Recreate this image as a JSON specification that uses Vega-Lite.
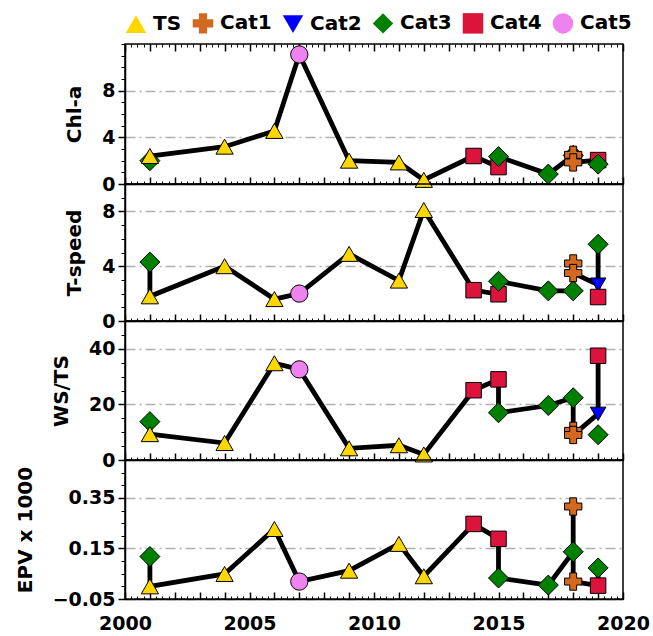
{
  "$schema": "https://vega.github.io/schema/vega-lite/v6.json",
  "padding": {"left": 14, "top": 12, "right": 10, "bottom": 5},
  "spacing": 0,
  "bounds": "flush",
  "datasets": {
    "d": [
      {"panel": "chl", "year": 2014, "cat": "Cat4", "value": 2.4, "seq": 9},
      {"panel": "chl", "year": 2015, "cat": "Cat4", "value": 1.45, "seq": 10},
      {"panel": "chl", "year": 2019, "cat": "Cat4", "value": 2.05, "seq": 16},
      {"panel": "chl", "year": 2001, "cat": "Cat3", "value": 2.0, "seq": 1},
      {"panel": "chl", "year": 2015, "cat": "Cat3", "value": 2.35, "seq": 11},
      {"panel": "chl", "year": 2017, "cat": "Cat3", "value": 0.85, "seq": 12},
      {"panel": "chl", "year": 2018, "cat": "Cat3", "value": 2.45, "seq": 13},
      {"panel": "chl", "year": 2019, "cat": "Cat3", "value": 1.7, "seq": 17},
      {"panel": "chl", "year": 2001, "cat": "TS", "value": 2.4, "seq": 2},
      {"panel": "chl", "year": 2004, "cat": "TS", "value": 3.2, "seq": 3},
      {"panel": "chl", "year": 2006, "cat": "TS", "value": 4.55, "seq": 4},
      {"panel": "chl", "year": 2009, "cat": "TS", "value": 2.0, "seq": 6},
      {"panel": "chl", "year": 2011, "cat": "TS", "value": 1.85, "seq": 7},
      {"panel": "chl", "year": 2012, "cat": "TS", "value": 0.35, "seq": 8},
      {"panel": "chl", "year": 2007, "cat": "Cat5", "value": 11.1, "seq": 5},
      {"panel": "chl", "year": 2018, "cat": "Cat1", "value": 2.5, "seq": 14},
      {"panel": "chl", "year": 2018, "cat": "Cat1", "value": 1.85, "seq": 15},

      {"panel": "ts", "year": 2019, "cat": "Cat2", "value": 2.65, "seq": 16},
      {"panel": "ts", "year": 2014, "cat": "Cat4", "value": 2.25, "seq": 9},
      {"panel": "ts", "year": 2015, "cat": "Cat4", "value": 1.95, "seq": 10},
      {"panel": "ts", "year": 2019, "cat": "Cat4", "value": 1.75, "seq": 18},
      {"panel": "ts", "year": 2001, "cat": "Cat3", "value": 4.3, "seq": 1},
      {"panel": "ts", "year": 2015, "cat": "Cat3", "value": 2.9, "seq": 11},
      {"panel": "ts", "year": 2017, "cat": "Cat3", "value": 2.2, "seq": 12},
      {"panel": "ts", "year": 2018, "cat": "Cat3", "value": 2.2, "seq": 13},
      {"panel": "ts", "year": 2019, "cat": "Cat3", "value": 5.6, "seq": 17},
      {"panel": "ts", "year": 2001, "cat": "TS", "value": 1.8, "seq": 2},
      {"panel": "ts", "year": 2004, "cat": "TS", "value": 4.0, "seq": 3},
      {"panel": "ts", "year": 2006, "cat": "TS", "value": 1.6, "seq": 4},
      {"panel": "ts", "year": 2009, "cat": "TS", "value": 4.9, "seq": 6},
      {"panel": "ts", "year": 2011, "cat": "TS", "value": 2.95, "seq": 7},
      {"panel": "ts", "year": 2012, "cat": "TS", "value": 8.1, "seq": 8},
      {"panel": "ts", "year": 2007, "cat": "Cat5", "value": 2.0, "seq": 5},
      {"panel": "ts", "year": 2018, "cat": "Cat1", "value": 4.2, "seq": 14},
      {"panel": "ts", "year": 2018, "cat": "Cat1", "value": 3.5, "seq": 15},

      {"panel": "ws", "year": 2019, "cat": "Cat2", "value": 16.6, "seq": 16},
      {"panel": "ws", "year": 2014, "cat": "Cat4", "value": 25.1, "seq": 9},
      {"panel": "ws", "year": 2015, "cat": "Cat4", "value": 29.0, "seq": 10},
      {"panel": "ws", "year": 2019, "cat": "Cat4", "value": 37.5, "seq": 17},
      {"panel": "ws", "year": 2001, "cat": "Cat3", "value": 13.8, "seq": 1},
      {"panel": "ws", "year": 2015, "cat": "Cat3", "value": 17.0, "seq": 11},
      {"panel": "ws", "year": 2017, "cat": "Cat3", "value": 19.6, "seq": 12},
      {"panel": "ws", "year": 2018, "cat": "Cat3", "value": 22.4, "seq": 13},
      {"panel": "ws", "year": 2019, "cat": "Cat3", "value": 9.1, "seq": null},
      {"panel": "ws", "year": 2001, "cat": "TS", "value": 9.3, "seq": 2},
      {"panel": "ws", "year": 2004, "cat": "TS", "value": 6.1, "seq": 3},
      {"panel": "ws", "year": 2006, "cat": "TS", "value": 34.8, "seq": 4},
      {"panel": "ws", "year": 2009, "cat": "TS", "value": 4.2, "seq": 6},
      {"panel": "ws", "year": 2011, "cat": "TS", "value": 5.3, "seq": 7},
      {"panel": "ws", "year": 2012, "cat": "TS", "value": 2.0, "seq": 8},
      {"panel": "ws", "year": 2007, "cat": "Cat5", "value": 32.6, "seq": 5},
      {"panel": "ws", "year": 2018, "cat": "Cat1", "value": 10.5, "seq": 14},
      {"panel": "ws", "year": 2018, "cat": "Cat1", "value": 9.0, "seq": 15},

      {"panel": "epv", "year": 2014, "cat": "Cat4", "value": 0.247, "seq": 9},
      {"panel": "epv", "year": 2015, "cat": "Cat4", "value": 0.188, "seq": 10},
      {"panel": "epv", "year": 2019, "cat": "Cat4", "value": 0.003, "seq": 16},
      {"panel": "epv", "year": 2001, "cat": "Cat3", "value": 0.118, "seq": 1},
      {"panel": "epv", "year": 2015, "cat": "Cat3", "value": 0.033, "seq": 11},
      {"panel": "epv", "year": 2017, "cat": "Cat3", "value": 0.005, "seq": 12},
      {"panel": "epv", "year": 2018, "cat": "Cat3", "value": 0.137, "seq": 13},
      {"panel": "epv", "year": 2019, "cat": "Cat3", "value": 0.073, "seq": 17},
      {"panel": "epv", "year": 2001, "cat": "TS", "value": 0.0, "seq": 2},
      {"panel": "epv", "year": 2004, "cat": "TS", "value": 0.049, "seq": 3},
      {"panel": "epv", "year": 2006, "cat": "TS", "value": 0.227, "seq": 4},
      {"panel": "epv", "year": 2009, "cat": "TS", "value": 0.062, "seq": 6},
      {"panel": "epv", "year": 2011, "cat": "TS", "value": 0.168, "seq": 7},
      {"panel": "epv", "year": 2012, "cat": "TS", "value": 0.04, "seq": 8},
      {"panel": "epv", "year": 2007, "cat": "Cat5", "value": 0.019, "seq": 5},
      {"panel": "epv", "year": 2018, "cat": "Cat1", "value": 0.316, "seq": 14},
      {"panel": "epv", "year": 2018, "cat": "Cat1", "value": 0.019, "seq": 15}
    ]
  },
  "data": {"name": "d"},
  "resolve": {
    "scale": {"x": "shared", "y": "independent", "color": "shared", "shape": "shared"},
    "axis": {"x": "independent", "y": "independent"},
    "legend": {"color": "shared", "shape": "shared"}
  },
  "vconcat": [
    {
      "width": 498, "height": 140,
      "transform": [{"filter": "datum.panel === 'chl'"}],
      "resolve": {"axis": {"x": "independent", "y": "independent"}},
      "layer": [
        {
          "transform": [{"filter": "isValid(datum.seq)"}],
          "mark": {"type": "line", "color": "black", "strokeWidth": 4.8},
          "encoding": {
            "x": {"field": "year", "type": "quantitative", "scale": {"domain": [2000, 2020], "nice": false, "zero": false},
                  "axis": {"orient": "bottom", "title": null, "labels": false, "grid": false, "tickSize": -7, "values": [2000,2001,2002,2003,2004,2005,2006,2007,2008,2009,2010,2011,2012,2013,2014,2015,2016,2017,2018,2019,2020]}},
            "y": {"field": "value", "type": "quantitative", "scale": {"domain": [0, 12], "nice": false},
                  "axis": {"orient": "left", "title": "Chl-a", "values": [0, 4, 8], "tickSize": 7, "grid": true}},
            "order": {"field": "seq", "type": "quantitative"}
          }
        },
        {
          "transform": [{"filter": "datum.cat === 'Cat2' || datum.cat === 'Cat4'"}],
          "mark": {"type": "point", "filled": true, "opacity": 1, "stroke": "black", "strokeWidth": 1, "size": 240},
          "encoding": {
            "x": {"field": "year", "type": "quantitative",
                  "axis": {"orient": "bottom", "title": null, "labels": false, "grid": false, "domain": false, "tickSize": -3, "tickWidth": 1, "values": [2000,2000.25,2000.5,2000.75,2001,2001.25,2001.5,2001.75,2002,2002.25,2002.5,2002.75,2003,2003.25,2003.5,2003.75,2004,2004.25,2004.5,2004.75,2005,2005.25,2005.5,2005.75,2006,2006.25,2006.5,2006.75,2007,2007.25,2007.5,2007.75,2008,2008.25,2008.5,2008.75,2009,2009.25,2009.5,2009.75,2010,2010.25,2010.5,2010.75,2011,2011.25,2011.5,2011.75,2012,2012.25,2012.5,2012.75,2013,2013.25,2013.5,2013.75,2014,2014.25,2014.5,2014.75,2015,2015.25,2015.5,2015.75,2016,2016.25,2016.5,2016.75,2017,2017.25,2017.5,2017.75,2018,2018.25,2018.5,2018.75,2019,2019.25,2019.5,2019.75,2020]}},
            "y": {"field": "value", "type": "quantitative",
                  "axis": {"orient": "left", "title": null, "labels": false, "grid": false, "domain": false, "tickSize": 4, "tickWidth": 1, "values": [0,1,2,3,4,5,6,7,8,9,10,11,12]}},
            "shape": {"field": "cat", "type": "nominal", "scale": {"domain": ["TS","Cat1","Cat2","Cat3","Cat4","Cat5"], "range": ["triangle-up","cross","triangle-down","diamond","square","circle"]}},
            "color": {"field": "cat", "type": "nominal", "scale": {"domain": ["TS","Cat1","Cat2","Cat3","Cat4","Cat5"], "range": ["#FFD700","#D2691E","#0000FF","#008000","#DC143C","#EE82EE"]}}
          }
        },
        {
          "transform": [{"filter": "datum.cat === 'Cat3'"}],
          "mark": {"type": "point", "filled": true, "opacity": 1, "stroke": "black", "strokeWidth": 1, "size": 400},
          "encoding": {
            "x": {"field": "year", "type": "quantitative",
                  "axis": {"orient": "top", "title": null, "labels": false, "grid": false, "domain": false, "tickSize": -7, "values": [2000,2001,2002,2003,2004,2005,2006,2007,2008,2009,2010,2011,2012,2013,2014,2015,2016,2017,2018,2019,2020]}},
            "y": {"field": "value", "type": "quantitative", "axis": null},
            "shape": {"field": "cat", "type": "nominal"},
            "color": {"field": "cat", "type": "nominal"}
          }
        },
        {
          "transform": [{"filter": "datum.cat === 'TS' || datum.cat === 'Cat5' || datum.cat === 'Cat1'"}],
          "mark": {"type": "point", "filled": true, "opacity": 1, "stroke": "black", "strokeWidth": 1, "size": 300},
          "encoding": {
            "x": {"field": "year", "type": "quantitative",
                  "axis": {"orient": "top", "title": null, "labels": false, "grid": false, "domain": false, "tickSize": -3, "tickWidth": 1, "values": [2000,2000.25,2000.5,2000.75,2001,2001.25,2001.5,2001.75,2002,2002.25,2002.5,2002.75,2003,2003.25,2003.5,2003.75,2004,2004.25,2004.5,2004.75,2005,2005.25,2005.5,2005.75,2006,2006.25,2006.5,2006.75,2007,2007.25,2007.5,2007.75,2008,2008.25,2008.5,2008.75,2009,2009.25,2009.5,2009.75,2010,2010.25,2010.5,2010.75,2011,2011.25,2011.5,2011.75,2012,2012.25,2012.5,2012.75,2013,2013.25,2013.5,2013.75,2014,2014.25,2014.5,2014.75,2015,2015.25,2015.5,2015.75,2016,2016.25,2016.5,2016.75,2017,2017.25,2017.5,2017.75,2018,2018.25,2018.5,2018.75,2019,2019.25,2019.5,2019.75,2020]}},
            "y": {"field": "value", "type": "quantitative", "axis": null},
            "shape": {"field": "cat", "type": "nominal"},
            "color": {"field": "cat", "type": "nominal"}
          }
        }
      ]
    },
    {
      "width": 498, "height": 137,
      "transform": [{"filter": "datum.panel === 'ts'"}],
      "resolve": {"axis": {"x": "independent", "y": "independent"}},
      "layer": [
        {
          "transform": [{"filter": "isValid(datum.seq)"}],
          "mark": {"type": "line", "color": "black", "strokeWidth": 4.8},
          "encoding": {
            "x": {"field": "year", "type": "quantitative", "scale": {"domain": [2000, 2020], "nice": false, "zero": false},
                  "axis": {"orient": "bottom", "title": null, "labels": false, "grid": false, "tickSize": -7, "values": [2000,2001,2002,2003,2004,2005,2006,2007,2008,2009,2010,2011,2012,2013,2014,2015,2016,2017,2018,2019,2020]}},
            "y": {"field": "value", "type": "quantitative", "scale": {"domain": [0, 10], "nice": false},
                  "axis": {"orient": "left", "title": "T-speed", "values": [0, 4, 8], "tickSize": 7, "grid": true}},
            "order": {"field": "seq", "type": "quantitative"}
          }
        },
        {
          "transform": [{"filter": "datum.cat === 'Cat2' || datum.cat === 'Cat4'"}],
          "mark": {"type": "point", "filled": true, "opacity": 1, "stroke": "black", "strokeWidth": 1, "size": 240},
          "encoding": {
            "x": {"field": "year", "type": "quantitative",
                  "axis": {"orient": "bottom", "title": null, "labels": false, "grid": false, "domain": false, "tickSize": -3, "tickWidth": 1, "values": [2000,2000.25,2000.5,2000.75,2001,2001.25,2001.5,2001.75,2002,2002.25,2002.5,2002.75,2003,2003.25,2003.5,2003.75,2004,2004.25,2004.5,2004.75,2005,2005.25,2005.5,2005.75,2006,2006.25,2006.5,2006.75,2007,2007.25,2007.5,2007.75,2008,2008.25,2008.5,2008.75,2009,2009.25,2009.5,2009.75,2010,2010.25,2010.5,2010.75,2011,2011.25,2011.5,2011.75,2012,2012.25,2012.5,2012.75,2013,2013.25,2013.5,2013.75,2014,2014.25,2014.5,2014.75,2015,2015.25,2015.5,2015.75,2016,2016.25,2016.5,2016.75,2017,2017.25,2017.5,2017.75,2018,2018.25,2018.5,2018.75,2019,2019.25,2019.5,2019.75,2020]}},
            "y": {"field": "value", "type": "quantitative",
                  "axis": {"orient": "left", "title": null, "labels": false, "grid": false, "domain": false, "tickSize": 4, "tickWidth": 1, "values": [0,1,2,3,4,5,6,7,8,9,10]}},
            "shape": {"field": "cat", "type": "nominal"},
            "color": {"field": "cat", "type": "nominal"}
          }
        },
        {
          "transform": [{"filter": "datum.cat === 'Cat3'"}],
          "mark": {"type": "point", "filled": true, "opacity": 1, "stroke": "black", "strokeWidth": 1, "size": 400},
          "encoding": {
            "x": {"field": "year", "type": "quantitative", "axis": null},
            "y": {"field": "value", "type": "quantitative", "axis": null},
            "shape": {"field": "cat", "type": "nominal"},
            "color": {"field": "cat", "type": "nominal"}
          }
        },
        {
          "transform": [{"filter": "datum.cat === 'TS' || datum.cat === 'Cat5' || datum.cat === 'Cat1'"}],
          "mark": {"type": "point", "filled": true, "opacity": 1, "stroke": "black", "strokeWidth": 1, "size": 300},
          "encoding": {
            "x": {"field": "year", "type": "quantitative", "axis": null},
            "y": {"field": "value", "type": "quantitative", "axis": null},
            "shape": {"field": "cat", "type": "nominal"},
            "color": {"field": "cat", "type": "nominal"}
          }
        }
      ]
    },
    {
      "width": 498, "height": 139,
      "transform": [{"filter": "datum.panel === 'ws'"}],
      "resolve": {"axis": {"x": "independent", "y": "independent"}},
      "layer": [
        {
          "transform": [{"filter": "isValid(datum.seq)"}],
          "mark": {"type": "line", "color": "black", "strokeWidth": 4.8},
          "encoding": {
            "x": {"field": "year", "type": "quantitative", "scale": {"domain": [2000, 2020], "nice": false, "zero": false},
                  "axis": {"orient": "bottom", "title": null, "labels": false, "grid": false, "tickSize": -7, "values": [2000,2001,2002,2003,2004,2005,2006,2007,2008,2009,2010,2011,2012,2013,2014,2015,2016,2017,2018,2019,2020]}},
            "y": {"field": "value", "type": "quantitative", "scale": {"domain": [0, 50], "nice": false},
                  "axis": {"orient": "left", "title": "WS/TS", "values": [0, 20, 40], "tickSize": 7, "grid": true}},
            "order": {"field": "seq", "type": "quantitative"}
          }
        },
        {
          "transform": [{"filter": "datum.cat === 'Cat2' || datum.cat === 'Cat4'"}],
          "mark": {"type": "point", "filled": true, "opacity": 1, "stroke": "black", "strokeWidth": 1, "size": 240},
          "encoding": {
            "x": {"field": "year", "type": "quantitative",
                  "axis": {"orient": "bottom", "title": null, "labels": false, "grid": false, "domain": false, "tickSize": -3, "tickWidth": 1, "values": [2000,2000.25,2000.5,2000.75,2001,2001.25,2001.5,2001.75,2002,2002.25,2002.5,2002.75,2003,2003.25,2003.5,2003.75,2004,2004.25,2004.5,2004.75,2005,2005.25,2005.5,2005.75,2006,2006.25,2006.5,2006.75,2007,2007.25,2007.5,2007.75,2008,2008.25,2008.5,2008.75,2009,2009.25,2009.5,2009.75,2010,2010.25,2010.5,2010.75,2011,2011.25,2011.5,2011.75,2012,2012.25,2012.5,2012.75,2013,2013.25,2013.5,2013.75,2014,2014.25,2014.5,2014.75,2015,2015.25,2015.5,2015.75,2016,2016.25,2016.5,2016.75,2017,2017.25,2017.5,2017.75,2018,2018.25,2018.5,2018.75,2019,2019.25,2019.5,2019.75,2020]}},
            "y": {"field": "value", "type": "quantitative",
                  "axis": {"orient": "left", "title": null, "labels": false, "grid": false, "domain": false, "tickSize": 4, "tickWidth": 1, "values": [0,5,10,15,20,25,30,35,40,45,50]}},
            "shape": {"field": "cat", "type": "nominal"},
            "color": {"field": "cat", "type": "nominal"}
          }
        },
        {
          "transform": [{"filter": "datum.cat === 'Cat3'"}],
          "mark": {"type": "point", "filled": true, "opacity": 1, "stroke": "black", "strokeWidth": 1, "size": 400},
          "encoding": {
            "x": {"field": "year", "type": "quantitative", "axis": null},
            "y": {"field": "value", "type": "quantitative", "axis": null},
            "shape": {"field": "cat", "type": "nominal"},
            "color": {"field": "cat", "type": "nominal"}
          }
        },
        {
          "transform": [{"filter": "datum.cat === 'TS' || datum.cat === 'Cat5' || datum.cat === 'Cat1'"}],
          "mark": {"type": "point", "filled": true, "opacity": 1, "stroke": "black", "strokeWidth": 1, "size": 300},
          "encoding": {
            "x": {"field": "year", "type": "quantitative", "axis": null},
            "y": {"field": "value", "type": "quantitative", "axis": null},
            "shape": {"field": "cat", "type": "nominal"},
            "color": {"field": "cat", "type": "nominal"}
          }
        }
      ]
    },
    {
      "width": 498, "height": 139,
      "transform": [{"filter": "datum.panel === 'epv'"}],
      "resolve": {"axis": {"x": "independent", "y": "independent"}},
      "layer": [
        {
          "transform": [{"filter": "isValid(datum.seq)"}],
          "mark": {"type": "line", "color": "black", "strokeWidth": 4.8},
          "encoding": {
            "x": {"field": "year", "type": "quantitative", "scale": {"domain": [2000, 2020], "nice": false, "zero": false},
                  "axis": {"orient": "bottom", "title": null, "labels": true, "format": "d", "labelExpr": "datum.value % 5 === 0 ? datum.label : ''", "grid": false, "tickSize": -7, "labelPadding": 22, "values": [2000,2001,2002,2003,2004,2005,2006,2007,2008,2009,2010,2011,2012,2013,2014,2015,2016,2017,2018,2019,2020]}},
            "y": {"field": "value", "type": "quantitative", "scale": {"domain": [-0.05, 0.5], "nice": false, "zero": false},
                  "axis": {"orient": "left", "title": "EPV x 1000", "values": [-0.05, 0.15, 0.35], "labelExpr": "datum.value < 0 ? '−0.05' : format(datum.value, '.2f')", "tickSize": 7, "grid": true}},
            "order": {"field": "seq", "type": "quantitative"}
          }
        },
        {
          "transform": [{"filter": "datum.cat === 'Cat2' || datum.cat === 'Cat4'"}],
          "mark": {"type": "point", "filled": true, "opacity": 1, "stroke": "black", "strokeWidth": 1, "size": 240},
          "encoding": {
            "x": {"field": "year", "type": "quantitative",
                  "axis": {"orient": "bottom", "title": null, "labels": false, "grid": false, "domain": false, "tickSize": -3, "tickWidth": 1, "values": [2000,2000.25,2000.5,2000.75,2001,2001.25,2001.5,2001.75,2002,2002.25,2002.5,2002.75,2003,2003.25,2003.5,2003.75,2004,2004.25,2004.5,2004.75,2005,2005.25,2005.5,2005.75,2006,2006.25,2006.5,2006.75,2007,2007.25,2007.5,2007.75,2008,2008.25,2008.5,2008.75,2009,2009.25,2009.5,2009.75,2010,2010.25,2010.5,2010.75,2011,2011.25,2011.5,2011.75,2012,2012.25,2012.5,2012.75,2013,2013.25,2013.5,2013.75,2014,2014.25,2014.5,2014.75,2015,2015.25,2015.5,2015.75,2016,2016.25,2016.5,2016.75,2017,2017.25,2017.5,2017.75,2018,2018.25,2018.5,2018.75,2019,2019.25,2019.5,2019.75,2020]}},
            "y": {"field": "value", "type": "quantitative",
                  "axis": {"orient": "left", "title": null, "labels": false, "grid": false, "domain": false, "tickSize": 4, "tickWidth": 1, "values": [-0.05,0,0.05,0.1,0.15,0.2,0.25,0.3,0.35,0.4,0.45,0.5]}},
            "shape": {"field": "cat", "type": "nominal"},
            "color": {"field": "cat", "type": "nominal"}
          }
        },
        {
          "transform": [{"filter": "datum.cat === 'Cat3'"}],
          "mark": {"type": "point", "filled": true, "opacity": 1, "stroke": "black", "strokeWidth": 1, "size": 400},
          "encoding": {
            "x": {"field": "year", "type": "quantitative", "axis": null},
            "y": {"field": "value", "type": "quantitative", "axis": null},
            "shape": {"field": "cat", "type": "nominal"},
            "color": {"field": "cat", "type": "nominal"}
          }
        },
        {
          "transform": [{"filter": "datum.cat === 'TS' || datum.cat === 'Cat5' || datum.cat === 'Cat1'"}],
          "mark": {"type": "point", "filled": true, "opacity": 1, "stroke": "black", "strokeWidth": 1, "size": 300},
          "encoding": {
            "x": {"field": "year", "type": "quantitative", "axis": null},
            "y": {"field": "value", "type": "quantitative", "axis": null},
            "shape": {"field": "cat", "type": "nominal"},
            "color": {"field": "cat", "type": "nominal"}
          }
        }
      ]
    }
  ],
  "config": {
    "font": "DejaVu Sans",
    "view": {"stroke": "black", "strokeWidth": 1.5},
    "axis": {
      "labelFont": "DejaVu Sans", "labelFontWeight": "bold", "labelFontSize": 19, "labelColor": "black", "labelPadding": 3,
      "titleFont": "DejaVu Sans", "titleFontWeight": "bold", "titleFontSize": 20, "titleColor": "black", "titlePadding": 17,
      "domainColor": "black", "domainWidth": 1.5, "tickColor": "black", "tickWidth": 1.5,
      "gridColor": "#b0b0b0", "gridDash": [10, 4, 2, 4], "gridWidth": 1.5, "labelFlush": false, "labelOverlap": false
    },
    "legend": {
      "orient": "top", "direction": "horizontal", "title": null,
      "labelFont": "DejaVu Sans", "labelFontWeight": "bold", "labelFontSize": 20, "labelColor": "black",
      "symbolSize": 420, "symbolStrokeColor": "black", "symbolStrokeWidth": 1, "symbolOpacity": 1,
      "columnPadding": 8, "labelOffset": 6, "offset": 6
    }
  }
}
